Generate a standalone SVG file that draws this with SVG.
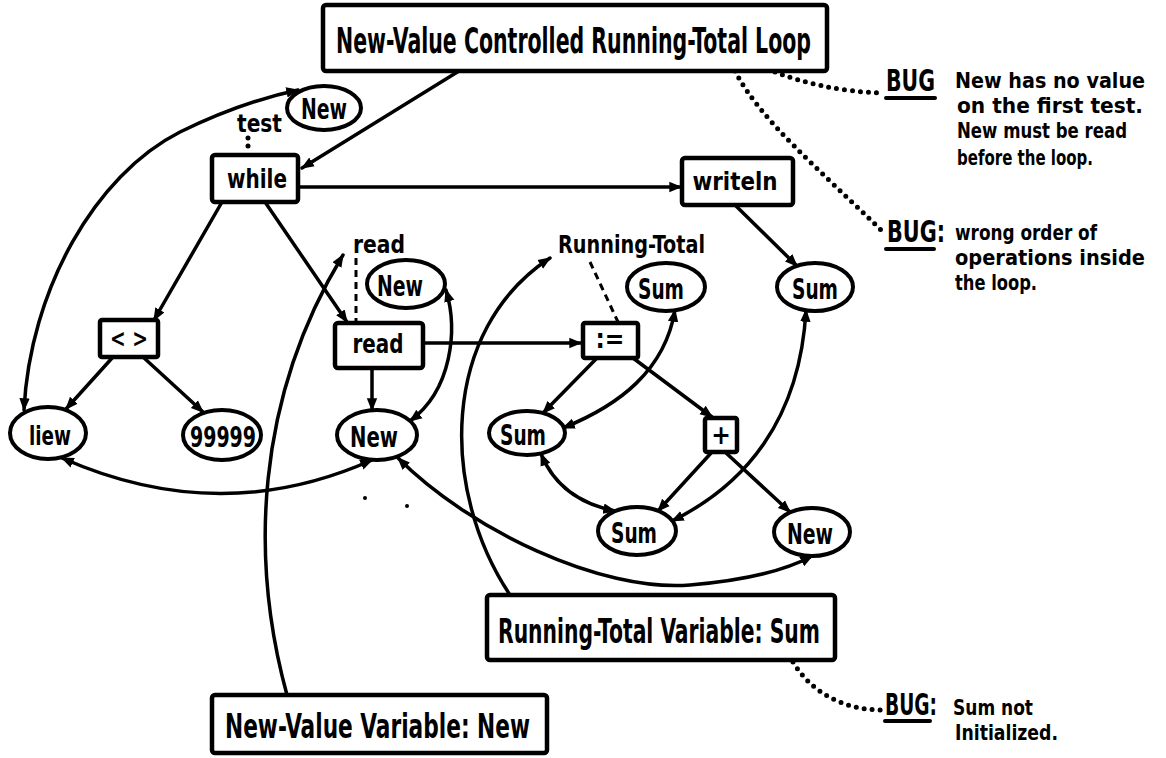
<svg xmlns="http://www.w3.org/2000/svg" width="1166" height="758" viewBox="0 0 1166 758">
<style>
.box{fill:#fff;stroke:#000;stroke-width:4.5}
.ell{fill:#fff;stroke:#000;stroke-width:4}
.c{fill:none;stroke:#000;stroke-width:3.5;stroke-linecap:round}
.dash{fill:none;stroke:#000;stroke-width:3;stroke-dasharray:7 5}
.dot{fill:none;stroke:#000;stroke-width:5;stroke-dasharray:0 8;stroke-linecap:round}
.ul{stroke:#000;stroke-width:4;stroke-linecap:round}
text{font-family:"DejaVu Sans Condensed","Liberation Sans Narrow","Liberation Sans",sans-serif;font-weight:bold;fill:#000}
.m{text-anchor:middle}
.b{font-size:21px}
</style>
<defs>
<marker id="ah" viewBox="0 0 10 10" refX="9" refY="5" markerWidth="13" markerHeight="13" markerUnits="userSpaceOnUse" orient="auto-start-reverse">
<path d="M0,1 L10,5 L0,9 z" fill="#000"/>
</marker>
</defs>
<g id="connectors">
<path class="c" d="M459,71 L302,168" marker-end="url(#ah)"/>
<path class="c" d="M300,187 L681,187" marker-end="url(#ah)"/>
<path class="c" d="M222,202 L154,320" marker-end="url(#ah)"/>
<path class="c" d="M265,202 L347,322" marker-end="url(#ah)"/>
<path class="c" d="M372,368 L372,410" marker-end="url(#ah)"/>
<path class="c" d="M113,357 L66,409" marker-end="url(#ah)"/>
<path class="c" d="M143,357 L203,412" marker-end="url(#ah)"/>
<path class="c" d="M446,290 C458,330 452,390 410,421" marker-start="url(#ah)" marker-end="url(#ah)"/>
<path class="c" d="M24,410 C30,290 95,175 180,132 C225,110 265,97 298,90" marker-start="url(#ah)" marker-end="url(#ah)"/>
<path class="c" d="M62,458 Q220,528 372,460" marker-start="url(#ah)" marker-end="url(#ah)"/>
<path class="c" d="M398,458 C470,530 600,592 690,585 C750,580 790,568 812,556" marker-start="url(#ah)" marker-end="url(#ah)"/>
<path class="c" d="M510,595 C440,490 440,330 550,258" marker-end="url(#ah)"/>
<path class="c" d="M287,695 C250,560 255,400 343,255" marker-end="url(#ah)"/>
<path class="dash" d="M590,262 L618,322"/>
<path class="dash" d="M356,258 L356,322"/>
<path class="dot" d="M248,138 L248,154"/>
<path class="c" d="M423,343 L581,343" marker-end="url(#ah)"/>
<path class="c" d="M597,358 L543,413" marker-end="url(#ah)"/>
<path class="c" d="M675,310 C665,370 620,405 563,428" marker-start="url(#ah)" marker-end="url(#ah)"/>
<path class="c" d="M633,358 L712,417" marker-end="url(#ah)"/>
<path class="c" d="M712,452 L658,511" marker-end="url(#ah)"/>
<path class="c" d="M725,452 L790,512" marker-end="url(#ah)"/>
<path class="c" d="M541,454 Q560,500 615,511" marker-start="url(#ah)" marker-end="url(#ah)"/>
<path class="c" d="M735,205 L797,266" marker-end="url(#ah)"/>
<path class="c" d="M806,310 C800,420 745,485 672,521" marker-start="url(#ah)" marker-end="url(#ah)"/>
<path class="dot" d="M775,72 C800,82 840,92 883,93"/>
<path class="dot" d="M735,71 C760,120 820,170 883,232"/>
<path class="dot" d="M793,662 C810,690 840,710 883,710"/>
<circle cx="365" cy="498" r="2" fill="#000"/>
<circle cx="407" cy="506" r="2" fill="#000"/>
</g>
<g id="title">
<rect class="box" x="323" y="5" width="504" height="66" rx="3"/>
<text x="336" y="53" font-size="36" textLength="475" lengthAdjust="spacingAndGlyphs">New-Value Controlled Running-Total Loop</text>
</g>
<g id="newTop">
<ellipse class="ell" cx="324" cy="108" rx="37" ry="22"/>
<text class="m" x="324" y="119" font-size="28" textLength="46" lengthAdjust="spacingAndGlyphs">New</text>
</g>
<g id="testLabel"><text x="237" y="132" font-size="24" textLength="45" lengthAdjust="spacingAndGlyphs">test</text></g>
<g id="while">
<rect class="box" x="212" y="155" width="86" height="47" rx="3"/>
<text class="m" x="257" y="188" font-size="27" textLength="60" lengthAdjust="spacingAndGlyphs">while</text>
</g>
<g id="writeln">
<rect class="box" x="682" y="158" width="111" height="47" rx="3"/>
<text class="m" x="735" y="190" font-size="25" textLength="85" lengthAdjust="spacingAndGlyphs">writeln</text>
</g>
<g id="neq">
<rect class="box" x="100" y="320" width="58" height="37" rx="2"/>
<text class="m" x="129" y="347" font-size="24" textLength="38" lengthAdjust="spacingAndGlyphs">&lt; &gt;</text>
</g>
<g id="readLabel"><text x="353" y="253" font-size="24" textLength="52" lengthAdjust="spacingAndGlyphs">read</text></g>
<g id="newMid">
<ellipse class="ell" cx="406" cy="284" rx="39" ry="24"/>
<text class="m" x="400" y="296" font-size="29" textLength="46" lengthAdjust="spacingAndGlyphs">New</text>
</g>
<g id="read">
<rect class="box" x="335" y="323" width="88" height="45" rx="3"/>
<text class="m" x="378" y="353" font-size="26" textLength="51" lengthAdjust="spacingAndGlyphs">read</text>
</g>
<g id="iew">
<ellipse class="ell" cx="48" cy="433" rx="38" ry="26"/>
<text class="m" x="50" y="445" font-size="26" textLength="42" lengthAdjust="spacingAndGlyphs">liew</text>
</g>
<g id="n99999">
<ellipse class="ell" cx="222" cy="435" rx="39" ry="25"/>
<text class="m" x="223" y="447" font-size="28" textLength="66" lengthAdjust="spacingAndGlyphs">99999</text>
</g>
<g id="newLow">
<ellipse class="ell" cx="377" cy="435" rx="40" ry="25"/>
<text class="m" x="374" y="447" font-size="29" textLength="48" lengthAdjust="spacingAndGlyphs">New</text>
</g>
<g id="rtLabel"><text x="558" y="253" font-size="25" font-weight="normal" textLength="147" lengthAdjust="spacingAndGlyphs">Running-Total</text></g>
<g id="assign">
<rect class="box" x="583" y="323" width="55" height="35" rx="2"/>
<text class="m" x="610" y="348" font-size="26">:=</text>
</g>
<g id="sumUp">
<ellipse class="ell" cx="666" cy="287" rx="39" ry="24"/>
<text class="m" x="661" y="299" font-size="28" textLength="46" lengthAdjust="spacingAndGlyphs">Sum</text>
</g>
<g id="sumRight">
<ellipse class="ell" cx="815" cy="287" rx="38" ry="24"/>
<text class="m" x="815" y="299" font-size="28" textLength="46" lengthAdjust="spacingAndGlyphs">Sum</text>
</g>
<g id="plus">
<rect class="box" x="705" y="418" width="32" height="34" rx="2"/>
<text class="m" x="721" y="444" font-size="26">+</text>
</g>
<g id="sumLeft">
<ellipse class="ell" cx="527" cy="433" rx="38" ry="22"/>
<text class="m" x="523" y="445" font-size="28" textLength="46" lengthAdjust="spacingAndGlyphs">Sum</text>
</g>
<g id="sumBottom">
<ellipse class="ell" cx="637" cy="531" rx="39" ry="24"/>
<text class="m" x="634" y="543" font-size="28" textLength="46" lengthAdjust="spacingAndGlyphs">Sum</text>
</g>
<g id="newBR">
<ellipse class="ell" cx="812" cy="532" rx="38" ry="24"/>
<text class="m" x="810" y="544" font-size="28" textLength="46" lengthAdjust="spacingAndGlyphs">New</text>
</g>
<g id="rtVar">
<rect class="box" x="487" y="595" width="348" height="65" rx="3"/>
<text x="498" y="643" font-size="34" textLength="322" lengthAdjust="spacingAndGlyphs">Running-Total Variable: Sum</text>
</g>
<g id="nvVar">
<rect class="box" x="212" y="695" width="335" height="58" rx="3"/>
<text x="225" y="738" font-size="33" textLength="305" lengthAdjust="spacingAndGlyphs">New-Value Variable: New</text>
</g>
<g id="bug1">
<text x="886" y="91" font-size="30" textLength="49" lengthAdjust="spacingAndGlyphs">BUG</text>
<line class="ul" x1="886" y1="98" x2="935" y2="98"/>
<text class="b" x="955" y="88" textLength="190" lengthAdjust="spacingAndGlyphs">New has no value</text>
<text class="b" x="957" y="113" textLength="186" lengthAdjust="spacingAndGlyphs">on the first test.</text>
<text class="b" x="957" y="138" textLength="170" lengthAdjust="spacingAndGlyphs">New must be read</text>
<text class="b" x="957" y="165" textLength="136" lengthAdjust="spacingAndGlyphs">before the loop.</text>
</g>
<g id="bug2">
<text x="887" y="242" font-size="30" textLength="58" lengthAdjust="spacingAndGlyphs">BUG:</text>
<line class="ul" x1="886" y1="249" x2="934" y2="249"/>
<text class="b" x="955" y="240" textLength="142" lengthAdjust="spacingAndGlyphs">wrong order of</text>
<text class="b" x="955" y="265" textLength="190" lengthAdjust="spacingAndGlyphs">operations inside</text>
<text class="b" x="955" y="290" textLength="82" lengthAdjust="spacingAndGlyphs">the loop.</text>
</g>
<g id="bug3">
<text x="885" y="715" font-size="30" textLength="52" lengthAdjust="spacingAndGlyphs">BUG:</text>
<line class="ul" x1="885" y1="721" x2="930" y2="721"/>
<text class="b" x="953" y="715" textLength="80" lengthAdjust="spacingAndGlyphs">Sum not</text>
<text class="b" x="955" y="740" textLength="103" lengthAdjust="spacingAndGlyphs">Initialized.</text>
</g>
</svg>
